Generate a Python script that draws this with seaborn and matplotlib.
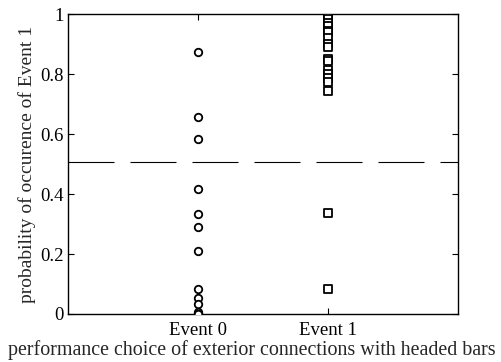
import matplotlib
matplotlib.use("Agg")
import matplotlib.pyplot as plt
import pandas as pd
import seaborn as sns

sns.set_style("ticks")
plt.rcParams["font.family"] = ["Liberation Serif", "DejaVu Serif"]

categories = ["Event 0", "Event 1"]
event0_probs = [0.873, 0.657, 0.584, 0.417, 0.335, 0.29, 0.21, 0.084, 0.052, 0.034,
                0.005, 0.0, 0.0]
event1_probs = [1.0, 1.0, 0.998, 0.995, 0.99, 0.982, 0.97, 0.96, 0.945, 0.94, 0.92,
                0.90, 0.89, 0.85, 0.845, 0.812, 0.80, 0.787, 0.774, 0.744, 0.337, 0.084]
threshold = 0.507

df0 = pd.DataFrame({"event": categories[0], "prob": event0_probs})
df1 = pd.DataFrame({"event": categories[1], "prob": event1_probs})

fig = plt.figure(figsize=(5.01, 3.62), dpi=100)
ax = fig.add_axes([0.1357, 0.1326, 0.7785, 0.8287])

sns.stripplot(data=df0, x="event", y="prob", order=categories, jitter=False,
              marker="o", size=5.4, color="white", edgecolor="black", linewidth=1.3, ax=ax)
sns.stripplot(data=df1, x="event", y="prob", order=categories, jitter=False,
              marker="s", size=5.2, color="white", edgecolor="black", linewidth=1.3, ax=ax)

ax.axhline(threshold, color="black", linewidth=0.8, dashes=(41.4, 14.4))

ax.set_xlim(-1, 2)
ax.set_ylim(0, 1)
ax.set_yticks([0, 0.2, 0.4, 0.6, 0.8, 1])
ax.set_yticklabels(["0", "0.2", "0.4", "0.6", "0.8", "1"])
ax.set_xticks([0, 1])
ax.set_xticklabels(categories)
ax.tick_params(direction="in", top=True, right=True, length=4, width=0.8,
               labelsize=13.5, pad=3, colors="black")
ax.tick_params(axis="x", pad=6)
for s in ax.spines.values():
    s.set_visible(True)
    s.set_color("black")
    s.set_linewidth(1.0)

ax.set_xlabel("performance choice of exterior connections with headed bars",
              fontsize=14.4)
ax.xaxis.set_label_coords(0.472, -0.088, transform=ax.transAxes)
ax.xaxis.label.set_verticalalignment("top")
ax.set_ylabel("probability of occurence of Event 1", fontsize=14, labelpad=3)

fig.savefig("out.png", dpi=100)
